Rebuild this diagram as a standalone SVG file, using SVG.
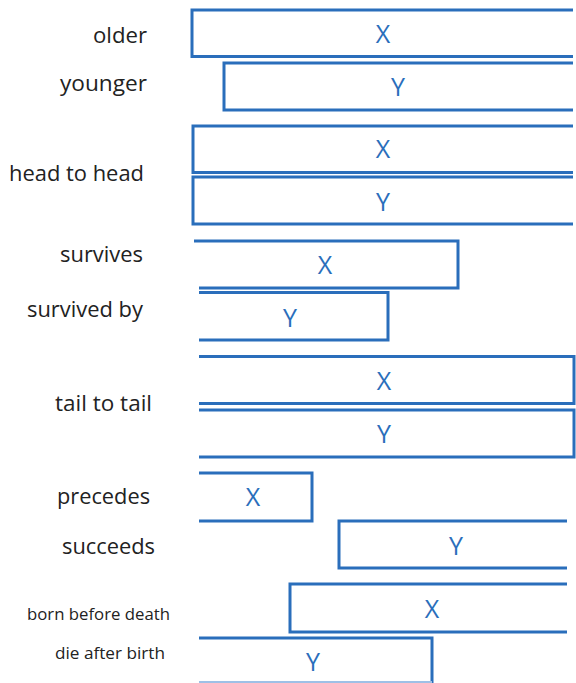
<svg xmlns="http://www.w3.org/2000/svg" width="576" height="683" viewBox="0 0 576 683">
<style>
.bar{fill:none;stroke:#2a6ebb;stroke-width:3;stroke-linejoin:miter}
.xy{font-family:"Open Sans",Lato,"Liberation Sans",sans-serif;font-size:25px;fill:#2a6ebb;text-anchor:middle}
.lbl{font-family:"Open Sans",Lato,"Liberation Sans",sans-serif;font-size:21.5px;fill:#222}
.sm{font-size:17px}
</style>
<rect width="576" height="683" fill="#fff"/>
<g id="labels">
<text class="lbl" x="93" y="43" textLength="54" lengthAdjust="spacingAndGlyphs">older</text>
<text class="lbl" x="60" y="91" textLength="87" lengthAdjust="spacingAndGlyphs">younger</text>
<text class="lbl" x="9" y="181" textLength="135" lengthAdjust="spacingAndGlyphs">head to head</text>
<text class="lbl" x="60" y="262" textLength="83" lengthAdjust="spacingAndGlyphs">survives</text>
<text class="lbl" x="27" y="317" textLength="116" lengthAdjust="spacingAndGlyphs">survived by</text>
<text class="lbl" x="55" y="411" textLength="97" lengthAdjust="spacingAndGlyphs">tail to tail</text>
<text class="lbl" x="57" y="504" textLength="93" lengthAdjust="spacingAndGlyphs">precedes</text>
<text class="lbl" x="62" y="554" textLength="93" lengthAdjust="spacingAndGlyphs">succeeds</text>
<text class="lbl sm" x="27" y="620" textLength="143" lengthAdjust="spacingAndGlyphs">born before death</text>
<text class="lbl sm" x="55" y="659" textLength="110" lengthAdjust="spacingAndGlyphs">die after birth</text>
</g>
<g id="older-x"><path class="bar" d="M573,10 H192 V56.5 H573"/><text class="xy" x="383" y="43">X</text></g>
<g id="younger-y"><path class="bar" d="M573,63 H224 V110 H573"/><text class="xy" x="398" y="96">Y</text></g>
<g id="head-x"><path class="bar" d="M573,126 H193 V172.5 H573"/><text class="xy" x="383" y="158">X</text></g>
<g id="head-y"><path class="bar" d="M573,177 H193 V224 H573"/><text class="xy" x="383" y="211">Y</text></g>
<g id="survives-x"><path class="bar" d="M194,241 H458 V288 H199"/><text class="xy" x="325" y="274">X</text></g>
<g id="survivedby-y"><path class="bar" d="M199,292.5 H388 V340 H199"/><text class="xy" x="290" y="327">Y</text></g>
<g id="tail-x"><path class="bar" d="M199,356.5 H574 V403.5 H199"/><text class="xy" x="384" y="390">X</text></g>
<g id="tail-y"><path class="bar" d="M199,410 H574 V457 H199"/><text class="xy" x="384" y="443">Y</text></g>
<g id="precedes-x"><path class="bar" d="M199,473 H312 V521 H199"/><text class="xy" x="253" y="506">X</text></g>
<g id="succeeds-y"><path class="bar" d="M567,521 H339 V568 H567"/><text class="xy" x="456" y="555">Y</text></g>
<g id="born-x"><path class="bar" d="M567,584 H290 V632 H567"/><text class="xy" x="432" y="618">X</text></g>
<g id="die-y"><path class="bar" d="M199,638 H432 V683"/><path d="M199,682 H432" stroke="#9fc0e6" stroke-width="2"/><text class="xy" x="313" y="671">Y</text></g>
</svg>
